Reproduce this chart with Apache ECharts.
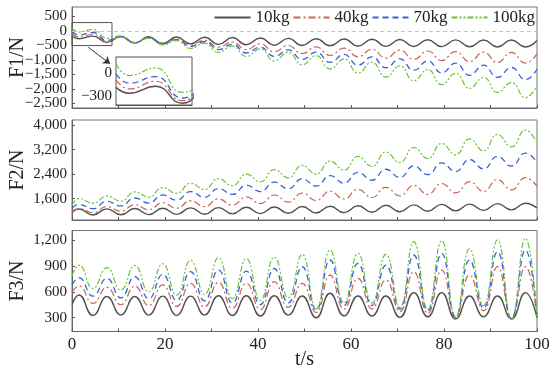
<!DOCTYPE html>
<html><head><meta charset="utf-8">
<script src="https://cdn.jsdelivr.net/npm/echarts@6/dist/echarts.min.js"></script>
<style>html,body{margin:0;padding:0;background:#fff}#c{width:550px;height:372px}</style>
</head><body><div id="c"></div>
<script>
// time of the read points (extrema of the oscillations), s
const t = [0,1.5,4.5,7.5,10.5,13.5,16.5,19.5,22.5,25.5,28.5,31.5,34.5,37.5,40.5,43.5,46.5,49.5,52.5,55.5,58.5,61.5,64.5,67.5,70.5,73.5,76.5,79.5,82.5,85.5,88.5,91.5,94.5,97.5,100];
const seriesNames = ['10kg','40kg','70kg','100kg'];
// F1 (N)
const F1_10kg  = [-190,-265,-176,-394,-195,-420,-200,-430,-205,-445,-215,-460,-225,-475,-240,-490,-255,-500,-265,-510,-275,-520,-285,-530,-295,-535,-300,-540,-305,-545,-310,-550,-310,-550,-330];
const F1_40kg  = [-94,-210,-111,-360,-200,-405,-230,-430,-270,-480,-320,-560,-380,-640,-440,-720,-500,-780,-550,-840,-590,-890,-630,-940,-660,-980,-690,-1020,-710,-1060,-730,-1090,-740,-1110,-780];
const F1_70kg  = [-17,-137,-51,-326,-190,-400,-240,-450,-300,-530,-370,-640,-460,-760,-560,-880,-650,-980,-730,-1080,-810,-1180,-890,-1270,-960,-1360,-1030,-1450,-1110,-1530,-1180,-1600,-1260,-1680,-1320];
const F1_100kg = [112,-38,60,-253,-170,-390,-250,-480,-330,-600,-420,-740,-520,-880,-620,-1030,-730,-1170,-850,-1310,-960,-1450,-1080,-1590,-1200,-1720,-1330,-1850,-1460,-1980,-1600,-2120,-1780,-2300,-1900];
// F2 (N)
const F2_10kg  = [1150,1260,1065,1265,1070,1275,1075,1285,1085,1295,1090,1305,1100,1315,1110,1325,1120,1340,1130,1350,1140,1365,1155,1380,1170,1395,1185,1410,1200,1420,1215,1435,1230,1450,1290];
const F2_40kg  = [1180,1276,1137,1338,1187,1402,1237,1464,1287,1528,1337,1591,1386,1654,1436,1717,1486,1779,1536,1843,1586,1906,1635,1969,1685,2032,1735,2094,1785,2158,1835,2221,1884,2284,2000];
const F2_70kg  = [1290,1410,1270,1510,1360,1620,1455,1720,1550,1830,1640,1930,1735,2040,1830,2140,1920,2250,2010,2350,2105,2460,2200,2560,2290,2670,2385,2770,2480,2880,2570,2980,2665,3090,2780];
const F2_100kg = [1380,1600,1450,1680,1520,1820,1650,1960,1770,2100,1900,2250,2020,2400,2150,2550,2280,2690,2400,2830,2530,2980,2650,3120,2780,3270,2910,3400,3030,3550,3160,3700,3290,3840,3420];
// F3 (N)
const F3_10kg  = [450,563,325,545,330,545,330,550,325,550,330,555,325,555,320,555,330,551,300,583,320,551,320,551,305,590,310,590,285,551,310,551,285,590,300];
const F3_40kg  = [600,667,465,652,450,667,440,679,430,698,425,710,410,698,395,717,420,698,360,794,400,756,400,737,370,833,350,852,300,794,380,891,290,891,300];
const F3_70kg  = [680,763,550,756,530,775,520,802,500,833,495,852,470,840,450,870,470,891,390,968,440,930,440,910,400,1026,380,1046,310,968,410,1064,290,1084,300];
const F3_100kg = [790,910,640,880,620,905,600,925,560,965,570,995,520,985,500,1000,530,1034,400,1084,470,1046,470,1034,420,1180,400,1192,300,1096,440,1200,280,1219,300];
// tick labels
const xTicks = [0,10,20,30,40,50,60,70,80,90,100];
const xLabels = [0,20,40,60,80,100];
const y1Ticks = [-2500,-2000,-1500,-1000,-500,0,500];
const y1LabelsA = [-2500,-1500,-500,500];
const y1LabelsB = [-2000,-1000,0];
const y2Ticks = [1600,2400,3200,4000];
const y3Ticks = [300,600,900,1200];
const insetTicks = [-300,0];

const FONT = 'Liberation Serif';
const ZERO_COLOR = '#a9c9ee';
const styles = [
  {color:'#505050', type:'solid', width:1.4},
  {color:'#c8644f', type:[7,3,2,3], width:1.2},
  {color:'#3b5fd8', type:[6,4], width:1.3},
  {color:'#6cc43a', type:[6,2,2,2,2,2], width:1.2}
];
function fmt(v){
  const s = Math.abs(v).toString().replace(/\B(?=(\d{3})+(?!\d))/g, ',');
  return (v < 0 ? '\u2212' : '') + s;
}
function line(name, vals, gi, st, extra){
  return Object.assign({
    type:'line', name:name, xAxisIndex:gi, yAxisIndex:gi,
    data: t.map((x,i)=>[x, vals[i]]),
    smooth:0.5, symbol:'none', showSymbol:false,
    lineStyle:{color:st.color, type:st.type, width:st.width},
    itemStyle:{color:st.color}
  }, extra||{});
}
function zeroLine(){
  return {silent:true, symbol:'none', label:{show:false},
    itemStyle:{color:ZERO_COLOR},
    lineStyle:{color:ZERO_COLOR, type:[4,3], width:1, opacity:1},
    emphasis:{disabled:true},
    data:[{yAxis:0, lineStyle:{color:ZERO_COLOR}}]};
}
const axisLineSt = {show:true, onZero:false, lineStyle:{color:'#666', width:1}};
function xAx(gi, showLabel){
  return {
    type:'value', gridIndex:gi, min:0, max:100, interval:10,
    axisLine:axisLineSt,
    axisTick:{show:true, inside:true, length:3, lineStyle:{color:'#555'}, customValues:xTicks},
    axisLabel:{show:showLabel, customValues:xLabels, fontFamily:FONT, fontSize:17, color:'#222', margin:5,
               showMinLabel:true, showMaxLabel:true, hideOverlap:false},
    splitLine:{show:false},
    name: showLabel ? 't/s' : '', nameLocation:'middle', nameGap:18, nameMoveOverlap:false,
    nameTextStyle:{fontFamily:FONT, fontSize:20, color:'#222'}
  };
}
function yAx(gi, min, max, ticks, labels, name){
  return {
    type:'value', gridIndex:gi, min:min, max:max, position:'left', offset:0,
    axisLine:axisLineSt,
    axisTick:{show:true, inside:true, length:3, lineStyle:{color:'#555'}, customValues:ticks},
    axisLabel:{customValues:labels, formatter:fmt, fontFamily:FONT, fontSize:15, color:'#222', margin:5,
               showMinLabel:true, showMaxLabel:true, hideOverlap:false},
    splitLine:{show:false},
    name:name, nameLocation:'middle', nameGap:44, nameMoveOverlap:false,
    nameTextStyle:{fontFamily:FONT, fontSize:20, color:'#222'}
  };
}
const gridBase = {show:true, borderColor:'#777', borderWidth:1, backgroundColor:'rgba(0,0,0,0)', containLabel:false, outerBoundsMode:'none'};

const F1 = [F1_10kg, F1_40kg, F1_70kg, F1_100kg];
const F2 = [F2_10kg, F2_40kg, F2_70kg, F2_100kg];
const F3 = [F3_10kg, F3_40kg, F3_70kg, F3_100kg];

const series = [];
F1.forEach((d,i)=>{
  let extra = {};
  if (i === 0) {
    extra.markLine = zeroLine();
    extra.markArea = {silent:true, itemStyle:{color:'rgba(0,0,0,0)', borderColor:'#555', borderWidth:1},
      data:[[{coord:[0,292]},{coord:[8.6,-503]}]]};
  }
  if (i === 1) {
    extra.markLine = {silent:true, symbol:['none','arrow'], symbolSize:7, label:{show:false},
      itemStyle:{color:'#333'},
      lineStyle:{color:'#333', type:'solid', width:1}, data:[[{coord:[3.5,-560]},{coord:[8.2,-1135]}]]};
  }
  series.push(line(seriesNames[i], d, 0, styles[i], extra));
});
F2.forEach((d,i)=>series.push(line(seriesNames[i], d, 1, styles[i])));
F3.forEach((d,i)=>series.push(line(seriesNames[i], d, 2, styles[i])));
F1.forEach((d,i)=>{
  let extra = {zlevel:1, z:5};
  if (i === 0) extra.markLine = zeroLine();
  series.push(line(seriesNames[i], d, 3, styles[i], extra));
});

const option = {
  animation:false,
  backgroundColor:'#fff',
  legend:{
    data:seriesNames, right:15, top:9, itemWidth:36, itemHeight:12, itemGap:3,
    itemStyle:{opacity:0},
    textStyle:{fontFamily:FONT, fontSize:17, color:'#222'}, padding:0
  },
  grid:[
    Object.assign({left:72, right:13, top:7, height:101}, gridBase),
    Object.assign({left:72, right:13, top:120, height:100}, gridBase),
    Object.assign({left:72, right:13, top:230.5, height:101}, gridBase),
    Object.assign({}, gridBase, {left:116, top:57, width:76, height:48, backgroundColor:'#fff', borderColor:'#555', zlevel:1, z:1})
  ],
  xAxis:[xAx(0,false), xAx(1,false), xAx(2,true),
    {type:'value', gridIndex:3, min:0, max:8.6, zlevel:1, axisLine:{show:true, onZero:false, lineStyle:{color:'#555'}},
     axisTick:{show:false}, axisLabel:{show:false}, splitLine:{show:false}}],
  yAxis:[yAx(0,-2660,830,y1Ticks,y1LabelsA,'F1/N'), yAx(1,900,4170,y2Ticks,y2Ticks,'F2/N'), yAx(2,140,1310,y3Ticks,y3Ticks,'F3/N'),
    {type:'value', gridIndex:3, min:-416, max:200, zlevel:1, axisLine:{show:true, onZero:false, lineStyle:{color:'#555'}},
     axisTick:{show:false}, splitLine:{show:false},
     axisLabel:{customValues:insetTicks, formatter:fmt, fontFamily:FONT, fontSize:15, color:'#222', margin:4,
                showMinLabel:true, showMaxLabel:true, hideOverlap:false}},
    {type:'value', gridIndex:0, min:-2660, max:830, position:'left', offset:0,
     axisLine:{show:false, onZero:false}, axisTick:{show:false}, splitLine:{show:false},
     axisLabel:{customValues:y1LabelsB, formatter:fmt, fontFamily:FONT, fontSize:15, color:'#222', margin:5,
                showMinLabel:true, showMaxLabel:true, hideOverlap:false}}],
  series:series
};
const chart = echarts.init(document.getElementById('c'), null, {renderer:'canvas'});
chart.setOption(option);
</script></body></html>
